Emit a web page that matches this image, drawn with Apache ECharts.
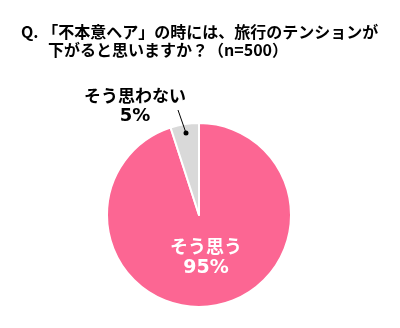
<!DOCTYPE html>
<html><head><meta charset="utf-8">
<script src="https://cdn.jsdelivr.net/npm/echarts@6/dist/echarts.min.js"></script>
<style>html,body{margin:0;padding:0;background:#fff}#c{width:400px;height:328px}</style>
</head><body><div id="c"></div>
<script>
const categories = ['そう思う', 'そう思わない'];
const values = [95, 5];
const colors = ['#fc6693', '#d9d9d9'];
const titleLines = ['Q. 「不本意ヘア」の時には、旅行のテンションが', '下がると思いますか？（n=500）'];

const chart = echarts.init(document.getElementById('c'), null, {renderer: 'canvas'});
const font = '"Noto Sans CJK JP", sans-serif';
const latin = '"DejaVu Sans", "Noto Sans CJK JP", sans-serif';
chart.setOption({
  animation: false,
  graphic: [
    {type: 'text', left: 21, top: 24, style: {text: titleLines[0], font: 'bold 16px ' + font, fill: '#000'}},
    {type: 'text', left: 48, top: 42, style: {text: titleLines[1], font: 'bold 16px ' + font, fill: '#000'}},
    {type: 'line', shape: {x1: 178, y1: 110, x2: 186, y2: 133}, style: {stroke: '#000', lineWidth: 1}, z: 100},
    {type: 'circle', shape: {cx: 186, cy: 133, r: 2.5}, style: {fill: '#000'}, z: 100}
  ],
  series: [{
    type: 'pie',
    center: [199, 215],
    radius: [0, 92],
    startAngle: 90,
    clockwise: true,
    data: categories.map((n, i) => ({
      name: n, value: values[i],
      itemStyle: {color: colors[i]},
      label: i === 0 ? {
        position: 'inside', color: '#fff', fontWeight: 'bold',
        formatter: '{a|{b}}\n{p|{c}%}',
        rich: {
          a: {fontSize: 18, fontWeight: 'bold', fontFamily: font, lineHeight: 22, color: '#fff'},
          p: {fontSize: 19, fontWeight: 'bold', fontFamily: latin, lineHeight: 22, color: '#fff'}
        }
      } : {
        position: 'outside', color: '#000', fontWeight: 'bold', align: 'center',
        formatter: '{a|{b}}\n{p|{c}%}',
        rich: {
          a: {fontSize: 17, fontWeight: 'bold', fontFamily: font, lineHeight: 21, color: '#000'},
          p: {fontSize: 18, fontWeight: 'bold', fontFamily: latin, lineHeight: 21, color: '#000'}
        }
      },
      labelLine: {show: false}
    })),
    itemStyle: {borderColor: '#fff', borderWidth: 2},
    labelLayout: function (p) {
      if (p.dataIndex === 0) return {x: 206, y: 257, align: 'center', verticalAlign: 'middle'};
      return {x: 135, y: 106, align: 'center', verticalAlign: 'middle'};
    }
  }]
});
</script></body></html>
